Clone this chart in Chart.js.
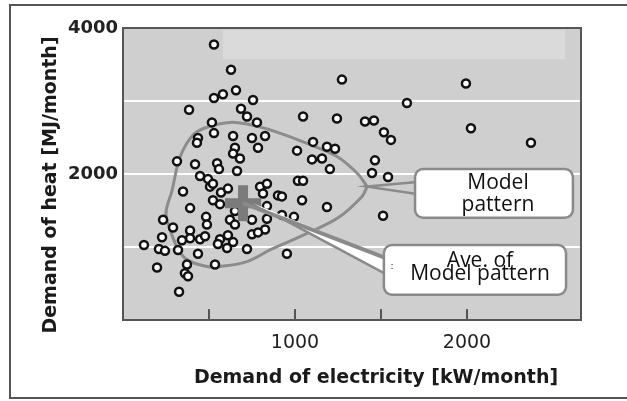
<!DOCTYPE html>
<html>
<head>
<meta charset="utf-8">
<script src="https://cdn.jsdelivr.net/npm/chart.js@4.4.0/dist/chart.umd.min.js"></script>
<style>
  body { margin: 0; background: #fff; }
  canvas { display: block; }
</style>
</head>
<body>
<canvas id="demandChart" width="627" height="401"></canvas>
<script>
// monthly demand of each house: electricity [kW/month] and heat [MJ/month]
var electricity = [529, 628, 529, 581, 657, 756, 384, 686, 721, 779, 517, 529, 640, 826, 436, 430, 750, 651, 640, 680,
    785, 314, 419, 547, 558, 663, 448, 494, 506, 523, 570, 610, 349, 797, 837, 814, 901, 523, 564, 651,
    390, 837, 483, 622, 750, 233, 837, 291, 390, 488, 651, 826, 750, 785, 227, 343, 390, 448, 477, 564,
    610, 640, 552, 605, 721, 122, 209, 244, 320, 436, 198, 372, 535, 360, 378, 326, 1273, 1994, 1651, 1047,
    1244, 1407, 1459, 1517, 1558, 1105, 1186, 1233, 1012, 1099, 1157, 1203, 1465, 1448, 1541, 1017, 1047, 924, 1041, 1186,
    924, 994, 1512, 953, 2023, 2372];
var heat = [3773, 3427, 3040, 3093, 3147, 3013, 2880, 2893, 2787, 2707, 2707, 2560, 2520, 2520, 2493, 2427, 2493, 2360, 2280, 2213,
    2360, 2173, 2133, 2147, 2067, 2040, 1973, 1933, 1827, 1867, 1747, 1800, 1760, 1827, 1867, 1733, 1707, 1640, 1587, 1493,
    1533, 1560, 1413, 1373, 1373, 1373, 1387, 1267, 1227, 1307, 1307, 1240, 1173, 1200, 1133, 1093, 1120, 1107, 1147, 1107,
    1160, 1067, 1040, 987, 973, 1027, 973, 947, 960, 907, 720, 760, 760, 640, 600, 387, 3293, 3240, 2973, 2787,
    2760, 2720, 2733, 2573, 2467, 2440, 2373, 2347, 2320, 2200, 2213, 2067, 2187, 2013, 1960, 1907, 1907, 1693, 1640, 1547,
    1440, 1413, 1427, 907, 2627, 2427];

// outline of the model pattern (starts and ends at its right tip)
var modelX = [1419, 1366, 1244, 1047, 895, 756, 622, 488, 407, 331, 285, 250, 273, 320, 372, 488, 564, 721, 866, 1058, 1250, 1390, 1419];
var modelY = [1827, 2000, 2240, 2440, 2573, 2667, 2707, 2640, 2533, 2227, 1773, 1467, 1240, 973, 827, 733, 733, 800, 973, 1173, 1400, 1693, 1827];

// average of the model pattern
var averageX = [698];
var averageY = [1600];

var xTickValues = [500, 1000, 1500, 2000];
var xTickLabels = [1000, 2000];
var yTickValues = [1000, 2000, 3000, 4000];
var yTickLabels = [2000, 4000];

var modelLabel = ['Model', 'pattern'];
var averageLabel = ['Ave. of', 'Model pattern'];

function toPoints(xs, ys) {
    return xs.map(function(x, i) { return { x: x, y: ys[i] }; });
}

var decorations = {
    id: 'decorations',
    beforeDraw: function(chart) {
        var ctx = chart.ctx;
        var area = chart.chartArea;
        var xs = chart.scales.x, ys = chart.scales.y;
        ctx.save();
        ctx.fillStyle = '#fff';
        ctx.fillRect(0, 0, chart.width, chart.height);
        ctx.strokeStyle = '#555';
        ctx.lineWidth = 2;
        ctx.strokeRect(10, 5, 700, 393);
        ctx.fillStyle = '#cfcfcf';
        ctx.fillRect(area.left, area.top, area.right - area.left, area.bottom - area.top);
        // lighter band at the top of the plot
        ctx.fillStyle = '#dadada';
        var bx0 = xs.getPixelForValue(581), bx1 = xs.getPixelForValue(2570);
        var by0 = ys.getPixelForValue(3973), by1 = ys.getPixelForValue(3573);
        ctx.fillRect(bx0, by0, bx1 - bx0, by1 - by0);
        ctx.restore();
    },
    afterDraw: function(chart) {
        var ctx = chart.ctx;
        var area = chart.chartArea;
        var xs = chart.scales.x, ys = chart.scales.y;
        ctx.save();

        // tick marks inside the plot
        ctx.strokeStyle = '#555';
        ctx.lineWidth = 2;
        xTickValues.forEach(function(v) {
            var px = Math.round(xs.getPixelForValue(v));
            ctx.beginPath();
            ctx.moveTo(px, area.bottom);
            ctx.lineTo(px, area.bottom - 11);
            ctx.stroke();
        });
        ctx.strokeRect(area.left, area.top, area.right - area.left, area.bottom - area.top);

        // callout: Model pattern
        var tipX = xs.getPixelForValue(modelX[0]), tipY = ys.getPixelForValue(modelY[0]);
        var m0x = xs.getPixelForValue(1698), m1x = xs.getPixelForValue(2616);
        var m0y = ys.getPixelForValue(2067), m1y = ys.getPixelForValue(1400);
        ctx.strokeStyle = '#8a8a8a';
        ctx.lineWidth = 2.5;
        ctx.beginPath();
        ctx.moveTo(m0x + 2, m0y + 13);
        ctx.lineTo(tipX, tipY);
        ctx.lineTo(m0x + 2, m0y + 25);
        ctx.stroke();
        ctx.beginPath();
        ctx.roundRect(m0x, m0y, m1x - m0x, m1y - m0y, 8);
        ctx.fillStyle = '#fff';
        ctx.fill();
        ctx.stroke();
        ctx.fillStyle = '#111';
        ctx.font = '21px "Open Sans"';
        ctx.textAlign = 'center';
        var mc = (m0x + m1x) / 2 + 4;
        ctx.fillText(modelLabel[0], mc, m0y + 20);
        ctx.fillText(modelLabel[1], mc, m0y + 42);

        // callout: average of model pattern
        var avX = xs.getPixelForValue(averageX[0]), avY = ys.getPixelForValue(averageY[0]);
        var a0x = xs.getPixelForValue(1517), a1x = xs.getPixelForValue(2576);
        var a0y = ys.getPixelForValue(1027), a1y = ys.getPixelForValue(347);
        ctx.beginPath();
        ctx.moveTo(avX + 10, avY);
        ctx.lineTo(a0x + 2, a0y + 13);
        ctx.lineTo(a0x + 2, a0y + 29);
        ctx.closePath();
        ctx.fillStyle = '#fff';
        ctx.fill();
        ctx.strokeStyle = '#8a8a8a';
        ctx.lineWidth = 2.5;
        ctx.beginPath();
        ctx.moveTo(a0x + 2, a0y + 29);
        ctx.lineTo(avX + 40, avY + 16);
        ctx.stroke();
        ctx.lineWidth = 4;
        ctx.beginPath();
        ctx.moveTo(avX, avY);
        ctx.lineTo(a0x + 2, a0y + 13);
        ctx.stroke();
        ctx.lineWidth = 2.5;
        ctx.beginPath();
        ctx.roundRect(a0x, a0y, a1x - a0x, a1y - a0y, 8);
        ctx.fillStyle = '#fff';
        ctx.fill();
        ctx.stroke();
        ctx.fillStyle = '#111';
        var ac = (a0x + a1x) / 2 + 5;
        ctx.fillText(averageLabel[0], ac, a0y + 22);
        ctx.fillText(averageLabel[1], ac, a0y + 35);
        ctx.font = '9px "DejaVu Sans"';
        ctx.fillText(':', a0x + 8, a0y + 24);

        // axis titles
        ctx.fillStyle = '#1a1a1a';
        ctx.font = 'bold 19px "DejaVu Sans"';
        ctx.textBaseline = 'middle';
        ctx.fillText('Demand of electricity [kW/month]', 376, 378);
        ctx.translate(51, 185);
        ctx.rotate(-Math.PI / 2);
        ctx.fillText('Demand of heat [MJ/month]', 0, 0);
        ctx.restore();
    }
};

var ctx = document.getElementById('demandChart').getContext('2d');
var demandChart = new Chart(ctx, {
    type: 'scatter',
    data: {
        datasets: [{
            label: 'Ave. of Model pattern',
            data: toPoints(averageX, averageY),
            pointStyle: 'cross',
            pointRadius: 18,
            borderWidth: 10,
            borderColor: '#7b7b7b',
            order: 0
        }, {
            label: 'Houses',
            data: toPoints(electricity, heat),
            pointRadius: 4,
            borderWidth: 2.5,
            borderColor: '#111',
            backgroundColor: '#fff',
            order: 1
        }, {
            label: 'Model pattern',
            data: toPoints(modelX, modelY),
            showLine: true,
            tension: 0.35,
            pointRadius: 0,
            borderWidth: 3,
            borderColor: '#8c8c8c',
            order: 2
        }]
    },
    options: {
        responsive: false,
        animation: false,
        devicePixelRatio: 1,
        layout: { padding: { top: 20, right: 46, left: 0, bottom: 0 } },
        plugins: {
            legend: { display: false },
            tooltip: { enabled: false }
        },
        scales: {
            x: {
                type: 'linear',
                min: 0,
                max: 2663,
                afterFit: function(scale) { scale.height = 81; },
                afterBuildTicks: function(scale) {
                    scale.ticks = xTickValues.map(function(v) { return { value: v }; });
                },
                grid: { display: false },
                border: { display: false },
                ticks: {
                    padding: 4,
                    color: '#222',
                    font: { family: 'DejaVu Sans', size: 19 },
                    maxRotation: 0,
                    callback: function(v) { return xTickLabels.indexOf(v) >= 0 ? String(v) : ''; }
                }
            },
            y: {
                min: 0,
                max: 4000,
                afterFit: function(scale) { scale.width = 123; },
                afterBuildTicks: function(scale) {
                    scale.ticks = yTickValues.map(function(v) { return { value: v }; });
                },
                grid: { color: '#ffffff', lineWidth: 2, drawTicks: false },
                border: { display: false },
                ticks: {
                    padding: 5,
                    color: '#222',
                    font: { family: 'DejaVu Sans', size: 18, weight: 'bold' },
                    callback: function(v) { return yTickLabels.indexOf(v) >= 0 ? String(v) : ''; }
                }
            }
        }
    },
    plugins: [decorations]
});
</script>
</body>
</html>
